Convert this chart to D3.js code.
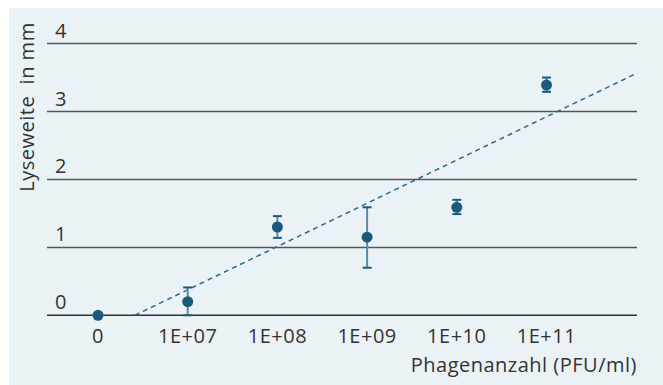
<!DOCTYPE html>
<html><head><meta charset="utf-8">
<script src="https://cdn.jsdelivr.net/npm/d3@7"></script>
<style>body{margin:0;background:#fff}svg{display:block}text{font-family:"Open Sans",sans-serif;letter-spacing:0.5px}</style>
</head><body><svg id="c" width="663" height="385"></svg>
<script>
const categories = ["0","1E+07","1E+08","1E+09","1E+10","1E+11"];
const values = [0, 0.20, 1.30, 1.15, 1.59, 3.39];
const errLow = [0, 0, 1.14, 0.70, 1.49, 3.29];
const errHigh = [0, 0.41, 1.46, 1.59, 1.70, 3.50];
const yTicks = [0,1,2,3,4];
const trendX = [0.41, 6.0];
const trendY = [0, 3.56];

const svg = d3.select("#c");
svg.append("rect").attr("x",9).attr("y",8).attr("width",654).attr("height",377).attr("fill","#ebf2f6");

const x = d3.scaleLinear().domain([0,5]).range([98,546.5]);
const y = d3.scaleLinear().domain([0,4]).range([315.3,43.6]);
const x0 = 47, x1 = 637;

svg.selectAll(".grid").data(yTicks).enter().append("line")
  .attr("x1",x0).attr("x2",x1).attr("y1",d=>y(d)).attr("y2",d=>y(d))
  .attr("stroke",d=>d===0?"#333":"#555").attr("stroke-width",1.5);
svg.selectAll(".yl").data(yTicks).enter().append("text")
  .attr("x",55).attr("y",d=>y(d)-6).attr("font-size",20).attr("fill","#333").text(d=>d);

svg.selectAll(".xl").data(categories).enter().append("text")
  .attr("x",(d,i)=>x(i)).attr("y",343).attr("text-anchor","middle").attr("font-size",20).attr("fill","#333").text(d=>d);

svg.append("text").attr("x",637).attr("y",372).attr("text-anchor","end").attr("font-size",20).attr("fill","#333").text("Phagenanzahl (PFU/ml)");
svg.append("text").attr("transform","translate(34,107) rotate(-90)").attr("text-anchor","middle").attr("font-size",20).attr("fill","#333").attr("xml:space","preserve").text("Lyseweite  in mm");

svg.append("line").attr("x1",x(trendX[0])).attr("y1",y(trendY[0])).attr("x2",x(trendX[1])).attr("y2",y(trendY[1]))
  .attr("stroke","#2a6a90").attr("stroke-width",1.5).attr("stroke-dasharray","5,4");

const idx = d3.range(categories.length).filter(i=>errHigh[i]>errLow[i]);
svg.selectAll(".eb").data(idx).enter().append("line")
  .attr("x1",i=>x(i)).attr("x2",i=>x(i)).attr("y1",i=>y(errLow[i])).attr("y2",i=>y(errHigh[i]))
  .attr("stroke","#5a8aa6").attr("stroke-width",2);
[errLow, errHigh].forEach(arr=>{
  svg.selectAll(null).data(idx).enter().append("line")
    .attr("x1",i=>x(i)-4.5).attr("x2",i=>x(i)+4.5).attr("y1",i=>y(arr[i])).attr("y2",i=>y(arr[i]))
    .attr("stroke","#1a5a7c").attr("stroke-width",2);
});

svg.selectAll(".pt").data(values).enter().append("circle")
  .attr("cx",(d,i)=>x(i)).attr("cy",d=>y(d)).attr("r",5.5).attr("fill","#1a5a7c");
</script></body></html>
